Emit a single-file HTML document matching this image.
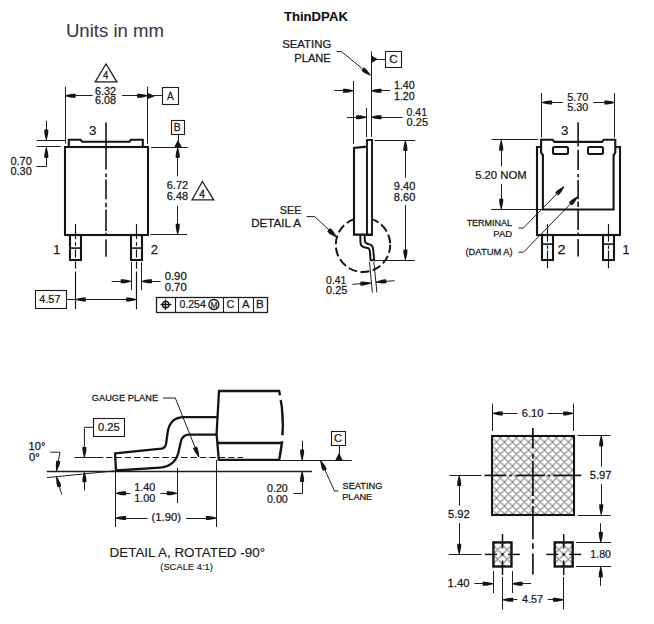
<!DOCTYPE html>
<html><head><meta charset="utf-8"><style>
html,body{margin:0;padding:0;background:#fff;width:654px;height:624px;overflow:hidden}
svg{display:block}
text{font-family:"Liberation Sans",sans-serif}
</style></head><body>
<svg width="654" height="624" viewBox="0 0 654 624">
<rect width="654" height="624" fill="#fff"/>
<text transform="translate(65.93 37.05) scale(1.058 1)" font-size="17.59" font-weight="normal" fill="#3b3b47" stroke="#3b3b47" stroke-width="0.1">Units in mm</text>
<text transform="translate(283.89 21.15) scale(1.102 1)" font-size="11.93" font-weight="bold" fill="#111" stroke="#111" stroke-width="0.1">ThinDPAK</text>
<path d="M106 64 L95.2 81.8 L116.9 81.8 Z" stroke="#1e1e1e" stroke-width="1.3" fill="none" stroke-linejoin="miter"/>
<text transform="translate(102.89 78.65) scale(0.931 1)" font-size="10.2" font-weight="normal" fill="#1b1b1b" stroke="#1b1b1b" stroke-width="0.3">4</text>
<line x1="65.5" y1="86.7" x2="65.5" y2="143.4" stroke="#1e1e1e" stroke-width="1" stroke-linecap="butt"/>
<line x1="147.5" y1="86.7" x2="147.5" y2="143.8" stroke="#1e1e1e" stroke-width="1" stroke-linecap="butt"/>
<line x1="92.6" y1="95.5" x2="65.2" y2="95.5" stroke="#1e1e1e" stroke-width="1" stroke-linecap="butt"/>
<path d="M65.2 95.44 L68.35 94.6 L71.5 93.96 L73.08 93.8 L75.39 93.8 L75.7 94.2 L75.7 97.4 L75.39 97.8 L73.08 97.8 L71.5 97.64 L68.35 97 L65.2 96.16 Z" fill="#151515"/>
<line x1="122" y1="95.5" x2="147.6" y2="95.5" stroke="#1e1e1e" stroke-width="1" stroke-linecap="butt"/>
<path d="M147.6 96.16 L144.45 97 L141.3 97.64 L139.72 97.8 L137.41 97.8 L137.1 97.4 L137.1 94.2 L137.41 93.8 L139.72 93.8 L141.3 93.96 L144.45 94.6 L147.6 95.44 Z" fill="#151515"/>
<text transform="translate(94.88 94.75) scale(1.050 1)" font-size="10.4" font-weight="normal" fill="#1b1b1b" stroke="#1b1b1b" stroke-width="0.25">6.32</text>
<text transform="translate(94.88 104.35) scale(1.044 1)" font-size="10.4" font-weight="normal" fill="#1b1b1b" stroke="#1b1b1b" stroke-width="0.25">6.08</text>
<path d="M147.8 92.9 L155.3 95.9 L147.8 98.9 Z" fill="#151515"/>
<line x1="154" y1="95.5" x2="162.3" y2="95.5" stroke="#1e1e1e" stroke-width="1" stroke-linecap="butt"/>
<rect x="162.5" y="87.5" width="16" height="17" stroke="#1e1e1e" stroke-width="1.1" fill="none"/>
<text transform="translate(166.97 100.35) scale(0.969 1)" font-size="10.4" font-weight="normal" fill="#1b1b1b" stroke="#1b1b1b" stroke-width="0.25">A</text>
<rect x="171.5" y="120.5" width="13" height="14" stroke="#1e1e1e" stroke-width="1.1" fill="none"/>
<text transform="translate(173.7 131.05) scale(0.997 1)" font-size="10.4" font-weight="normal" fill="#1b1b1b" stroke="#1b1b1b" stroke-width="0.25">B</text>
<line x1="178.5" y1="134.6" x2="178.5" y2="141" stroke="#1e1e1e" stroke-width="1" stroke-linecap="butt"/>
<path d="M174.3 147 L178 139.8 L181.7 147 Z" fill="#151515"/>
<line x1="151.1" y1="147.5" x2="187.8" y2="147.5" stroke="#1e1e1e" stroke-width="1" stroke-linecap="butt"/>
<line x1="177.5" y1="176.4" x2="177.5" y2="147.5" stroke="#1e1e1e" stroke-width="1" stroke-linecap="butt"/>
<path d="M178.06 147.5 L178.9 150.65 L179.54 153.8 L179.7 155.38 L179.7 157.69 L179.3 158 L176.1 158 L175.7 157.69 L175.7 155.38 L175.86 153.8 L176.5 150.65 L177.34 147.5 Z" fill="#151515"/>
<line x1="177.5" y1="205.8" x2="177.5" y2="234.3" stroke="#1e1e1e" stroke-width="1" stroke-linecap="butt"/>
<path d="M177.34 234.3 L176.5 231.15 L175.86 228 L175.7 226.43 L175.7 224.12 L176.1 223.8 L179.3 223.8 L179.7 224.12 L179.7 226.43 L179.54 228 L178.9 231.15 L178.06 234.3 Z" fill="#151515"/>
<line x1="150.4" y1="234.5" x2="187" y2="234.5" stroke="#1e1e1e" stroke-width="1" stroke-linecap="butt"/>
<text transform="translate(166.78 189.05) scale(1.055 1)" font-size="10.4" font-weight="normal" fill="#1b1b1b" stroke="#1b1b1b" stroke-width="0.25">6.72</text>
<text transform="translate(166.78 200.05) scale(1.050 1)" font-size="10.4" font-weight="normal" fill="#1b1b1b" stroke="#1b1b1b" stroke-width="0.25">6.48</text>
<path d="M202.4 181.5 L192.1 199.8 L213.7 199.8 Z" stroke="#1e1e1e" stroke-width="1.3" fill="none" stroke-linejoin="miter"/>
<text transform="translate(199.37 198.05) scale(1.010 1)" font-size="10.2" font-weight="normal" fill="#1b1b1b" stroke="#1b1b1b" stroke-width="0.35">4</text>
<line x1="36.7" y1="140.5" x2="65.5" y2="140.5" stroke="#1e1e1e" stroke-width="1" stroke-linecap="butt"/>
<line x1="36.7" y1="146.5" x2="60.7" y2="146.5" stroke="#1e1e1e" stroke-width="1" stroke-linecap="butt"/>
<line x1="46.5" y1="120.8" x2="46.5" y2="140" stroke="#1e1e1e" stroke-width="1" stroke-linecap="butt"/>
<path d="M45.94 140 L45.1 136.85 L44.46 133.7 L44.3 132.12 L44.3 129.81 L44.7 129.5 L47.9 129.5 L48.3 129.81 L48.3 132.12 L48.14 133.7 L47.5 136.85 L46.66 140 Z" fill="#151515"/>
<line x1="46.5" y1="166" x2="46.5" y2="147.4" stroke="#1e1e1e" stroke-width="1" stroke-linecap="butt"/>
<path d="M46.66 147.4 L47.5 150.55 L48.14 153.7 L48.3 155.28 L48.3 157.59 L47.9 157.9 L44.7 157.9 L44.3 157.59 L44.3 155.28 L44.46 153.7 L45.1 150.55 L45.94 147.4 Z" fill="#151515"/>
<line x1="46.8" y1="166.5" x2="36.3" y2="166.5" stroke="#1e1e1e" stroke-width="1" stroke-linecap="butt"/>
<text transform="translate(10.49 164.95) scale(1.054 1)" font-size="10.4" font-weight="normal" fill="#1b1b1b" stroke="#1b1b1b" stroke-width="0.25">0.70</text>
<text transform="translate(10.49 175.05) scale(1.054 1)" font-size="10.4" font-weight="normal" fill="#1b1b1b" stroke="#1b1b1b" stroke-width="0.25">0.30</text>
<rect x="65" y="147" width="83" height="88" stroke="#151515" stroke-width="2.1" fill="none"/>
<path d="M68.8 147.2 L68.8 139.7 L80.5 139.7 L82 141.7 L129.5 141.7 L131 139.7 L142.8 139.7 L142.8 147.2" stroke="#151515" stroke-width="2.1" fill="none" stroke-linejoin="miter"/>
<text transform="translate(88.99 135.35) scale(1.023 1)" font-size="13" font-weight="normal" fill="#1b1b1b" stroke="#1b1b1b" stroke-width="0.25">3</text>
<line x1="106" y1="122.6" x2="106" y2="169.4" stroke="#151515" stroke-width="1.6" stroke-linecap="butt"/>
<line x1="106" y1="173.6" x2="106" y2="177" stroke="#151515" stroke-width="1.6" stroke-linecap="butt"/>
<line x1="106" y1="179.6" x2="106" y2="199.2" stroke="#151515" stroke-width="1.6" stroke-linecap="butt"/>
<line x1="106" y1="202.7" x2="106" y2="207.3" stroke="#151515" stroke-width="1.6" stroke-linecap="butt"/>
<line x1="106" y1="209.6" x2="106" y2="230.9" stroke="#151515" stroke-width="1.6" stroke-linecap="butt"/>
<line x1="106" y1="232.8" x2="106" y2="235.8" stroke="#151515" stroke-width="1.6" stroke-linecap="butt"/>
<line x1="106" y1="239.5" x2="106" y2="256.8" stroke="#151515" stroke-width="1.6" stroke-linecap="butt"/>
<rect x="70" y="235" width="11" height="25" stroke="#151515" stroke-width="2.1" fill="none"/>
<line x1="70.4" y1="248.1" x2="80.9" y2="248.1" stroke="#151515" stroke-width="1.6" stroke-linecap="butt"/>
<line x1="75.5" y1="224" x2="75.5" y2="239.2" stroke="#151515" stroke-width="1.2" stroke-linecap="butt"/>
<line x1="75.5" y1="242.2" x2="75.5" y2="245.8" stroke="#151515" stroke-width="1.2" stroke-linecap="butt"/>
<line x1="75.5" y1="249.5" x2="75.5" y2="257.5" stroke="#151515" stroke-width="1.2" stroke-linecap="butt"/>
<line x1="75.5" y1="261.5" x2="75.5" y2="268.7" stroke="#151515" stroke-width="1.2" stroke-linecap="butt"/>
<line x1="75.5" y1="271.5" x2="75.5" y2="309.2" stroke="#151515" stroke-width="1.2" stroke-linecap="butt"/>
<rect x="131" y="235" width="11" height="25" stroke="#151515" stroke-width="2.1" fill="none"/>
<line x1="131.3" y1="248.1" x2="141.6" y2="248.1" stroke="#151515" stroke-width="1.6" stroke-linecap="butt"/>
<line x1="136.5" y1="224" x2="136.5" y2="239.2" stroke="#151515" stroke-width="1.2" stroke-linecap="butt"/>
<line x1="136.5" y1="242.2" x2="136.5" y2="245.8" stroke="#151515" stroke-width="1.2" stroke-linecap="butt"/>
<line x1="136.5" y1="249.5" x2="136.5" y2="257.5" stroke="#151515" stroke-width="1.2" stroke-linecap="butt"/>
<line x1="136.5" y1="261.5" x2="136.5" y2="268.7" stroke="#151515" stroke-width="1.2" stroke-linecap="butt"/>
<line x1="136.5" y1="271.5" x2="136.5" y2="309.2" stroke="#151515" stroke-width="1.2" stroke-linecap="butt"/>
<text transform="translate(53.25 254.15) scale(1.000 1)" font-size="12.6" font-weight="normal" fill="#1b1b1b" stroke="#1b1b1b" stroke-width="0.25">1</text>
<text transform="translate(150.77 254.15) scale(1.038 1)" font-size="12.6" font-weight="normal" fill="#1b1b1b" stroke="#1b1b1b" stroke-width="0.25">2</text>
<line x1="131.5" y1="262" x2="131.5" y2="290" stroke="#1e1e1e" stroke-width="1" stroke-linecap="butt"/>
<line x1="141.5" y1="262" x2="141.5" y2="290" stroke="#1e1e1e" stroke-width="1" stroke-linecap="butt"/>
<line x1="111.7" y1="281.5" x2="131.2" y2="281.5" stroke="#1e1e1e" stroke-width="1" stroke-linecap="butt"/>
<path d="M131.2 281.66 L128.05 282.5 L124.9 283.14 L123.32 283.3 L121.01 283.3 L120.7 282.9 L120.7 279.7 L121.01 279.3 L123.32 279.3 L124.9 279.46 L128.05 280.1 L131.2 280.94 Z" fill="#151515"/>
<line x1="160.6" y1="281.5" x2="141.5" y2="281.5" stroke="#1e1e1e" stroke-width="1" stroke-linecap="butt"/>
<path d="M141.5 280.94 L144.65 280.1 L147.8 279.46 L149.38 279.3 L151.69 279.3 L152 279.7 L152 282.9 L151.69 283.3 L149.38 283.3 L147.8 283.14 L144.65 282.5 L141.5 281.66 Z" fill="#151515"/>
<text transform="translate(164.67 280.35) scale(1.090 1)" font-size="10.4" font-weight="normal" fill="#1b1b1b" stroke="#1b1b1b" stroke-width="0.25">0.90</text>
<text transform="translate(164.67 290.85) scale(1.090 1)" font-size="10.4" font-weight="normal" fill="#1b1b1b" stroke="#1b1b1b" stroke-width="0.25">0.70</text>
<rect x="35.5" y="290.5" width="31" height="18" stroke="#1e1e1e" stroke-width="1.1" fill="none"/>
<text transform="translate(39.35 303.05) scale(1.041 1)" font-size="10.4" font-weight="normal" fill="#1b1b1b" stroke="#1b1b1b" stroke-width="0.25">4.57</text>
<line x1="66.2" y1="299.5" x2="136.6" y2="299.5" stroke="#1e1e1e" stroke-width="1" stroke-linecap="butt"/>
<path d="M75.5 299.14 L78.65 298.3 L81.8 297.66 L83.38 297.5 L85.69 297.5 L86 297.9 L86 301.1 L85.69 301.5 L83.38 301.5 L81.8 301.34 L78.65 300.7 L75.5 299.86 Z" fill="#151515"/>
<path d="M136.6 299.86 L133.45 300.7 L130.3 301.34 L128.72 301.5 L126.41 301.5 L126.1 301.1 L126.1 297.9 L126.41 297.5 L128.72 297.5 L130.3 297.66 L133.45 298.3 L136.6 299.14 Z" fill="#151515"/>
<rect x="156.5" y="297.5" width="111" height="15" stroke="#1e1e1e" stroke-width="1.3" fill="none"/>
<line x1="175.5" y1="297.2" x2="175.5" y2="312.6" stroke="#1e1e1e" stroke-width="1.1" stroke-linecap="butt"/>
<line x1="223.5" y1="297.2" x2="223.5" y2="312.6" stroke="#1e1e1e" stroke-width="1.1" stroke-linecap="butt"/>
<line x1="238.5" y1="297.2" x2="238.5" y2="312.6" stroke="#1e1e1e" stroke-width="1.1" stroke-linecap="butt"/>
<line x1="253.5" y1="297.2" x2="253.5" y2="312.6" stroke="#1e1e1e" stroke-width="1.1" stroke-linecap="butt"/>
<circle cx="165.8" cy="304.6" r="3.2" stroke="#151515" stroke-width="1.4" fill="none"/>
<line x1="160.5" y1="304.5" x2="171.4" y2="304.5" stroke="#151515" stroke-width="1.4" stroke-linecap="butt"/>
<line x1="165.5" y1="299.4" x2="165.5" y2="310" stroke="#151515" stroke-width="1.4" stroke-linecap="butt"/>
<text transform="translate(179.4 307.85) scale(1.019 1)" font-size="10.4" font-weight="normal" fill="#1b1b1b" stroke="#1b1b1b" stroke-width="0.25">0.254</text>
<circle cx="213.9" cy="304.5" r="5" stroke="#151515" stroke-width="1.3" fill="none"/>
<text transform="translate(210.49 308.15) scale(0.900 1)" font-size="9.4" font-weight="normal" fill="#1b1b1b" stroke="#1b1b1b" stroke-width="0.2">M</text>
<text transform="translate(226.58 307.85) scale(1.045 1)" font-size="10.4" font-weight="normal" fill="#1b1b1b" stroke="#1b1b1b" stroke-width="0.25">C</text>
<text transform="translate(242.07 307.85) scale(1.085 1)" font-size="10.4" font-weight="normal" fill="#1b1b1b" stroke="#1b1b1b" stroke-width="0.25">A</text>
<text transform="translate(255.91 307.85) scale(1.105 1)" font-size="10.4" font-weight="normal" fill="#1b1b1b" stroke="#1b1b1b" stroke-width="0.25">B</text>
<text transform="translate(282.21 47.85) scale(1.083 1)" font-size="10.5" font-weight="normal" fill="#1b1b1b" stroke="#1b1b1b" stroke-width="0.25">SEATING</text>
<text transform="translate(294.34 62.05) scale(1.058 1)" font-size="10.5" font-weight="normal" fill="#1b1b1b" stroke="#1b1b1b" stroke-width="0.25">PLANE</text>
<path d="M336.5 51.6 L341.5 51.6 L370.4 75.3" stroke="#1e1e1e" stroke-width="1" fill="none" stroke-linejoin="miter"/>
<path d="M370.16 75.59 L367.28 74.37 L364.54 72.99 L363.27 72.17 L361.57 70.77 L361.6 70.26 L363.73 67.66 L364.23 67.53 L365.93 68.92 L366.99 70 L368.88 72.42 L370.64 75.01 Z" fill="#151515"/>
<line x1="371.5" y1="51.4" x2="371.5" y2="137" stroke="#1e1e1e" stroke-width="1" stroke-linecap="butt"/>
<path d="M371 55.2 L377.8 59.2 L371 63.2 Z" fill="#151515"/>
<line x1="377" y1="59.5" x2="385.7" y2="59.5" stroke="#1e1e1e" stroke-width="1" stroke-linecap="butt"/>
<rect x="385.5" y="51.5" width="16" height="16" stroke="#1e1e1e" stroke-width="1.1" fill="none"/>
<text transform="translate(389.14 63.25) scale(1.122 1)" font-size="10.4" font-weight="normal" fill="#1b1b1b" stroke="#1b1b1b" stroke-width="0.25">C</text>
<line x1="353.5" y1="81" x2="353.5" y2="144" stroke="#1e1e1e" stroke-width="1" stroke-linecap="butt"/>
<line x1="334.2" y1="90.5" x2="353.4" y2="90.5" stroke="#1e1e1e" stroke-width="1" stroke-linecap="butt"/>
<path d="M353.4 91.16 L350.25 92 L347.1 92.64 L345.52 92.8 L343.21 92.8 L342.9 92.4 L342.9 89.2 L343.21 88.8 L345.52 88.8 L347.1 88.96 L350.25 89.6 L353.4 90.44 Z" fill="#151515"/>
<line x1="390.2" y1="90.5" x2="371" y2="90.5" stroke="#1e1e1e" stroke-width="1" stroke-linecap="butt"/>
<path d="M371 90.44 L374.15 89.6 L377.3 88.96 L378.88 88.8 L381.19 88.8 L381.5 89.2 L381.5 92.4 L381.19 92.8 L378.88 92.8 L377.3 92.64 L374.15 92 L371 91.16 Z" fill="#151515"/>
<text transform="translate(393.92 89.15) scale(1.032 1)" font-size="10.4" font-weight="normal" fill="#1b1b1b" stroke="#1b1b1b" stroke-width="0.25">1.40</text>
<text transform="translate(393.92 99.75) scale(1.032 1)" font-size="10.4" font-weight="normal" fill="#1b1b1b" stroke="#1b1b1b" stroke-width="0.25">1.20</text>
<line x1="366.5" y1="108" x2="366.5" y2="137" stroke="#1e1e1e" stroke-width="1" stroke-linecap="butt"/>
<line x1="347" y1="117.5" x2="366.6" y2="117.5" stroke="#1e1e1e" stroke-width="1" stroke-linecap="butt"/>
<path d="M366.6 117.56 L363.45 118.4 L360.3 119.04 L358.73 119.2 L356.42 119.2 L356.1 118.8 L356.1 115.6 L356.42 115.2 L358.73 115.2 L360.3 115.36 L363.45 116 L366.6 116.84 Z" fill="#151515"/>
<line x1="402.5" y1="117.5" x2="371" y2="117.5" stroke="#1e1e1e" stroke-width="1" stroke-linecap="butt"/>
<path d="M371 116.84 L374.15 116 L377.3 115.36 L378.88 115.2 L381.19 115.2 L381.5 115.6 L381.5 118.8 L381.19 119.2 L378.88 119.2 L377.3 119.04 L374.15 118.4 L371 117.56 Z" fill="#151515"/>
<text transform="translate(406.6 116.15) scale(1.013 1)" font-size="10.4" font-weight="normal" fill="#1b1b1b" stroke="#1b1b1b" stroke-width="0.25">0.41</text>
<text transform="translate(406.58 125.95) scale(1.059 1)" font-size="10.4" font-weight="normal" fill="#1b1b1b" stroke="#1b1b1b" stroke-width="0.25">0.25</text>
<circle cx="363" cy="244.8" r="27.2" stroke="#151515" stroke-width="2" fill="none" stroke-dasharray="9 3.4" stroke-dashoffset="1"/>
<rect x="354" y="147" width="17.4" height="87.6" fill="#fff"/>
<rect x="367" y="140" width="5" height="95" stroke="#151515" stroke-width="1.9" fill="none"/>
<path d="M366.8 146.6 L354 148 L354 234.6 L371.4 234.6" stroke="#151515" stroke-width="2.1" fill="none" stroke-linejoin="miter"/>
<line x1="374.6" y1="140.5" x2="415" y2="140.5" stroke="#1e1e1e" stroke-width="1" stroke-linecap="butt"/>
<line x1="375" y1="260.5" x2="414.8" y2="260.5" stroke="#1e1e1e" stroke-width="1" stroke-linecap="butt"/>
<line x1="405.5" y1="177.8" x2="405.5" y2="140.6" stroke="#1e1e1e" stroke-width="1" stroke-linecap="butt"/>
<path d="M405.76 140.6 L406.6 143.75 L407.24 146.9 L407.4 148.47 L407.4 150.78 L407 151.1 L403.8 151.1 L403.4 150.78 L403.4 148.47 L403.56 146.9 L404.2 143.75 L405.04 140.6 Z" fill="#151515"/>
<line x1="405.5" y1="205" x2="405.5" y2="260" stroke="#1e1e1e" stroke-width="1" stroke-linecap="butt"/>
<path d="M405.04 260 L404.2 256.85 L403.56 253.7 L403.4 252.12 L403.4 249.81 L403.8 249.5 L407 249.5 L407.4 249.81 L407.4 252.12 L407.24 253.7 L406.6 256.85 L405.76 260 Z" fill="#151515"/>
<text transform="translate(393.83 190.25) scale(1.062 1)" font-size="10.4" font-weight="normal" fill="#1b1b1b" stroke="#1b1b1b" stroke-width="0.25">9.40</text>
<text transform="translate(393.83 201.25) scale(1.062 1)" font-size="10.4" font-weight="normal" fill="#1b1b1b" stroke="#1b1b1b" stroke-width="0.25">8.60</text>
<path d="M360.3 234.6 L360.5 242.8 Q360.8 246.6 365 247.4 L367.6 247.9 Q369.6 248.5 369.9 251.5 L370.6 260.3 L374.1 260.3 L373.2 249.5 Q372.9 245.3 369.6 244.4 L368 244 Q364.8 243.2 364.8 240.5 L364.6 234.6" stroke="#151515" stroke-width="2" fill="none" />
<text transform="translate(279.84 213.85) scale(1.027 1)" font-size="10.5" font-weight="normal" fill="#1b1b1b" stroke="#1b1b1b" stroke-width="0.25">SEE</text>
<text transform="translate(251.19 227.05) scale(1.109 1)" font-size="10.5" font-weight="normal" fill="#1b1b1b" stroke="#1b1b1b" stroke-width="0.25">DETAIL A</text>
<path d="M306.7 216.6 L314.7 216.6 L336.3 236.9" stroke="#1e1e1e" stroke-width="1" fill="none" stroke-linejoin="miter"/>
<path d="M336.02 237.2 L333.06 235.75 L330.26 234.13 L328.99 233.18 L327.3 231.6 L327.39 231.05 L329.91 228.37 L330.45 228.25 L332.14 229.83 L333.16 231.04 L334.95 233.74 L336.58 236.6 Z" fill="#151515"/>
<line x1="369.5" y1="262" x2="372.4" y2="292.5" stroke="#1e1e1e" stroke-width="1" stroke-linecap="butt"/>
<line x1="373.9" y1="262" x2="376.9" y2="292.5" stroke="#1e1e1e" stroke-width="1" stroke-linecap="butt"/>
<line x1="352.4" y1="284.3" x2="370.8" y2="283.1" stroke="#1e1e1e" stroke-width="1" stroke-linecap="butt"/>
<path d="M370.82 283.46 L367.73 284.5 L364.63 285.35 L363.07 285.61 L360.77 285.76 L360.43 285.38 L360.22 282.19 L360.51 281.77 L362.81 281.62 L364.39 281.67 L367.58 282.11 L370.78 282.74 Z" fill="#151515"/>
<line x1="394.6" y1="280.7" x2="375.9" y2="282.1" stroke="#1e1e1e" stroke-width="1" stroke-linecap="butt"/>
<path d="M375.87 281.74 L378.95 280.67 L382.05 279.79 L383.6 279.52 L385.91 279.35 L386.25 279.72 L386.49 282.91 L386.21 283.33 L383.9 283.51 L382.32 283.46 L379.13 283.06 L375.93 282.46 Z" fill="#151515"/>
<text transform="translate(326.11 283.65) scale(1.003 1)" font-size="10.4" font-weight="normal" fill="#1b1b1b" stroke="#1b1b1b" stroke-width="0.25">0.41</text>
<text transform="translate(326.09 294.05) scale(1.044 1)" font-size="10.4" font-weight="normal" fill="#1b1b1b" stroke="#1b1b1b" stroke-width="0.25">0.25</text>
<line x1="541.5" y1="93" x2="541.5" y2="137.5" stroke="#1e1e1e" stroke-width="1" stroke-linecap="butt"/>
<line x1="614.5" y1="93" x2="614.5" y2="137.5" stroke="#1e1e1e" stroke-width="1" stroke-linecap="butt"/>
<line x1="562.8" y1="102.5" x2="541.6" y2="102.5" stroke="#1e1e1e" stroke-width="1" stroke-linecap="butt"/>
<path d="M541.6 102.14 L544.75 101.3 L547.9 100.66 L549.48 100.5 L551.78 100.5 L552.1 100.9 L552.1 104.1 L551.78 104.5 L549.48 104.5 L547.9 104.34 L544.75 103.7 L541.6 102.86 Z" fill="#151515"/>
<line x1="593.2" y1="102.5" x2="614.9" y2="102.5" stroke="#1e1e1e" stroke-width="1" stroke-linecap="butt"/>
<path d="M614.9 102.86 L611.75 103.7 L608.6 104.34 L607.02 104.5 L604.72 104.5 L604.4 104.1 L604.4 100.9 L604.72 100.5 L607.02 100.5 L608.6 100.66 L611.75 101.3 L614.9 102.14 Z" fill="#151515"/>
<text transform="translate(567.19 101.15) scale(1.049 1)" font-size="10.4" font-weight="normal" fill="#1b1b1b" stroke="#1b1b1b" stroke-width="0.25">5.70</text>
<text transform="translate(567.19 111.25) scale(1.049 1)" font-size="10.4" font-weight="normal" fill="#1b1b1b" stroke="#1b1b1b" stroke-width="0.25">5.30</text>
<text transform="translate(560.89 135.05) scale(1.023 1)" font-size="13" font-weight="normal" fill="#1b1b1b" stroke="#1b1b1b" stroke-width="0.25">3</text>
<rect x="537" y="147" width="83" height="88" stroke="#151515" stroke-width="2.1" fill="none"/>
<path d="M541.1 153 L541.1 139.8 L552.6 139.8 L554.5 141.9 L601.9 141.9 L603.8 139.8 L615.3 139.8 L615.3 153" stroke="#151515" stroke-width="2.1" fill="#fff" />
<path d="M541.1 152.9 L542.9 155 L542.9 209.5 L613.6 209.5 L613.6 155 L615.3 152.9" stroke="#151515" stroke-width="2.1" fill="none" />
<rect x="553" y="147" width="15" height="7" stroke="#151515" stroke-width="2.1" fill="#fff" rx="1.5"/>
<rect x="588" y="147" width="15" height="7" stroke="#151515" stroke-width="2.1" fill="#fff" rx="1.5"/>
<line x1="578.1" y1="122.2" x2="578.1" y2="146.4" stroke="#151515" stroke-width="1.6" stroke-linecap="butt"/>
<line x1="578.1" y1="149.8" x2="578.1" y2="170" stroke="#151515" stroke-width="1.6" stroke-linecap="butt"/>
<line x1="578.1" y1="173.9" x2="578.1" y2="177.3" stroke="#151515" stroke-width="1.6" stroke-linecap="butt"/>
<line x1="578.1" y1="180.1" x2="578.1" y2="199.2" stroke="#151515" stroke-width="1.6" stroke-linecap="butt"/>
<line x1="578.1" y1="201.5" x2="578.1" y2="206.9" stroke="#151515" stroke-width="1.6" stroke-linecap="butt"/>
<line x1="578.1" y1="209.3" x2="578.1" y2="230" stroke="#151515" stroke-width="1.6" stroke-linecap="butt"/>
<line x1="578.1" y1="232.5" x2="578.1" y2="235.5" stroke="#151515" stroke-width="1.6" stroke-linecap="butt"/>
<line x1="578.1" y1="238.9" x2="578.1" y2="256.6" stroke="#151515" stroke-width="1.6" stroke-linecap="butt"/>
<line x1="491.5" y1="139.5" x2="538" y2="139.5" stroke="#1e1e1e" stroke-width="1" stroke-linecap="butt"/>
<line x1="491.3" y1="209.5" x2="542" y2="209.5" stroke="#1e1e1e" stroke-width="1" stroke-linecap="butt"/>
<line x1="501.5" y1="166.4" x2="501.5" y2="140.3" stroke="#1e1e1e" stroke-width="1" stroke-linecap="butt"/>
<path d="M501.56 140.3 L502.4 143.45 L503.04 146.6 L503.2 148.18 L503.2 150.49 L502.8 150.8 L499.6 150.8 L499.2 150.49 L499.2 148.18 L499.36 146.6 L500 143.45 L500.84 140.3 Z" fill="#151515"/>
<line x1="501.5" y1="184" x2="501.5" y2="209.2" stroke="#1e1e1e" stroke-width="1" stroke-linecap="butt"/>
<path d="M500.84 209.2 L500 206.05 L499.36 202.9 L499.2 201.32 L499.2 199.01 L499.6 198.7 L502.8 198.7 L503.2 199.01 L503.2 201.32 L503.04 202.9 L502.4 206.05 L501.56 209.2 Z" fill="#151515"/>
<text transform="translate(475.17 179.45) scale(1.085 1)" font-size="10.4" font-weight="normal" fill="#1b1b1b" stroke="#1b1b1b" stroke-width="0.25">5.20 NOM</text>
<rect x="542" y="235" width="11" height="25" stroke="#151515" stroke-width="2.1" fill="none"/>
<line x1="542.2" y1="244.1" x2="553.1" y2="244.1" stroke="#151515" stroke-width="1.6" stroke-linecap="butt"/>
<line x1="547.5" y1="224" x2="547.5" y2="241.6" stroke="#151515" stroke-width="1.2" stroke-linecap="butt"/>
<line x1="547.5" y1="245.5" x2="547.5" y2="248.8" stroke="#151515" stroke-width="1.2" stroke-linecap="butt"/>
<line x1="547.5" y1="250.5" x2="547.5" y2="258.9" stroke="#151515" stroke-width="1.2" stroke-linecap="butt"/>
<line x1="547.5" y1="260.5" x2="547.5" y2="268.3" stroke="#151515" stroke-width="1.2" stroke-linecap="butt"/>
<rect x="603" y="235" width="11" height="25" stroke="#151515" stroke-width="2.1" fill="none"/>
<line x1="603.3" y1="244.1" x2="614.2" y2="244.1" stroke="#151515" stroke-width="1.6" stroke-linecap="butt"/>
<line x1="608.5" y1="224" x2="608.5" y2="241.6" stroke="#151515" stroke-width="1.2" stroke-linecap="butt"/>
<line x1="608.5" y1="245.5" x2="608.5" y2="248.8" stroke="#151515" stroke-width="1.2" stroke-linecap="butt"/>
<line x1="608.5" y1="250.5" x2="608.5" y2="258.9" stroke="#151515" stroke-width="1.2" stroke-linecap="butt"/>
<line x1="608.5" y1="260.5" x2="608.5" y2="268.3" stroke="#151515" stroke-width="1.2" stroke-linecap="butt"/>
<text transform="translate(557.51 254.15) scale(1.143 1)" font-size="12.6" font-weight="normal" fill="#1b1b1b" stroke="#1b1b1b" stroke-width="0.25">2</text>
<text transform="translate(622.55 254.15) scale(1.000 1)" font-size="12.6" font-weight="normal" fill="#1b1b1b" stroke="#1b1b1b" stroke-width="0.25">1</text>
<text transform="translate(466.65 226.25) scale(0.964 1)" font-size="9.3" font-weight="normal" fill="#1b1b1b" stroke="#1b1b1b" stroke-width="0.25">TERMINAL</text>
<text transform="translate(493.37 236.85) scale(1.017 1)" font-size="9.3" font-weight="normal" fill="#1b1b1b" stroke="#1b1b1b" stroke-width="0.25">PAD</text>
<text transform="translate(465.46 255.05) scale(1.010 1)" font-size="9.3" font-weight="normal" fill="#1b1b1b" stroke="#1b1b1b" stroke-width="0.25">(DATUM A)</text>
<path d="M518.5 228.1 L523.3 228.1 L564 186.6" stroke="#1e1e1e" stroke-width="1" fill="none" stroke-linejoin="miter"/>
<path d="M564.27 186.86 L562.69 189.73 L560.97 192.45 L559.99 193.69 L558.37 195.34 L557.85 195.27 L555.45 192.92 L555.37 192.4 L556.99 190.75 L558.21 189.75 L560.89 187.97 L563.73 186.34 Z" fill="#151515"/>
<path d="M518.5 252.2 L523.5 252.2 L577.6 196.6" stroke="#1e1e1e" stroke-width="1" fill="none" stroke-linejoin="miter"/>
<path d="M577.87 196.86 L576.31 199.74 L574.59 202.46 L573.61 203.71 L572 205.36 L571.48 205.3 L569.07 202.95 L568.99 202.44 L570.6 200.78 L571.82 199.77 L574.5 197.98 L577.33 196.34 Z" fill="#151515"/>
<text transform="translate(91.86 401.25) scale(1.050 1)" font-size="8.8" font-weight="normal" fill="#1b1b1b" stroke="#1b1b1b" stroke-width="0.25">GAUGE PLANE</text>
<path d="M163 398 L175.3 398 L198.9 457" stroke="#1e1e1e" stroke-width="1" fill="none" stroke-linejoin="miter"/>
<path d="M198.55 457.14 L196.56 454.54 L194.77 451.87 L194.03 450.47 L193.17 448.32 L193.44 447.87 L196.56 446.63 L197.07 446.76 L197.93 448.91 L198.35 450.43 L198.9 453.61 L199.25 456.86 Z" fill="#151515"/>
<rect x="93.5" y="418.5" width="31" height="18" stroke="#1e1e1e" stroke-width="1.1" fill="none"/>
<text transform="translate(97.98 431.45) scale(1.075 1)" font-size="10.4" font-weight="normal" fill="#1b1b1b" stroke="#1b1b1b" stroke-width="0.25">0.25</text>
<path d="M93.7 427.3 L84.4 427.3 L84.4 457.4" stroke="#1e1e1e" stroke-width="1" fill="none" stroke-linejoin="miter"/>
<path d="M84.04 457.4 L83.2 454.25 L82.56 451.1 L82.4 449.52 L82.4 447.21 L82.8 446.9 L86 446.9 L86.4 447.21 L86.4 449.52 L86.24 451.1 L85.6 454.25 L84.76 457.4 Z" fill="#151515"/>
<line x1="84.5" y1="490.4" x2="84.5" y2="471.8" stroke="#1e1e1e" stroke-width="1" stroke-linecap="butt"/>
<path d="M84.76 471.8 L85.6 474.95 L86.24 478.1 L86.4 479.68 L86.4 481.99 L86 482.3 L82.8 482.3 L82.4 481.99 L82.4 479.68 L82.56 478.1 L83.2 474.95 L84.04 471.8 Z" fill="#151515"/>
<line x1="74.4" y1="457.5" x2="103.3" y2="457.5" stroke="#1e1e1e" stroke-width="1" stroke-linecap="butt"/>
<line x1="106" y1="457.5" x2="243" y2="457.5" stroke="#1e1e1e" stroke-width="1" stroke-linecap="butt" stroke-dasharray="6.2 3.2"/>
<line x1="46.9" y1="471.5" x2="312.1" y2="471.5" stroke="#1e1e1e" stroke-width="1.3" stroke-linecap="butt"/>
<line x1="218.8" y1="460.5" x2="351.8" y2="460.5" stroke="#1e1e1e" stroke-width="1.2" stroke-linecap="butt"/>
<line x1="46.9" y1="477.6" x2="114.3" y2="470.9" stroke="#1e1e1e" stroke-width="1" stroke-linecap="butt"/>
<path d="M50.3 452.2 L60 452.2 L56.5 471" stroke="#1e1e1e" stroke-width="1" fill="none" stroke-linejoin="miter"/>
<path d="M56.15 470.93 L55.9 467.68 L55.84 464.47 L55.98 462.89 L56.4 460.62 L56.85 460.38 L59.99 460.97 L60.33 461.35 L59.91 463.62 L59.46 465.14 L58.26 468.12 L56.85 471.07 Z" fill="#151515"/>
<line x1="61.7" y1="494.5" x2="56.5" y2="476.8" stroke="#1e1e1e" stroke-width="1" stroke-linecap="butt"/>
<path d="M56.85 476.7 L58.54 479.48 L60.04 482.33 L60.64 483.79 L61.29 486.01 L60.99 486.42 L57.92 487.33 L57.45 487.14 L56.8 484.92 L56.51 483.36 L56.24 480.16 L56.15 476.9 Z" fill="#151515"/>
<text transform="translate(28.59 450.05) scale(1.066 1)" font-size="10.4" font-weight="normal" fill="#1b1b1b" stroke="#1b1b1b" stroke-width="0.25">10°</text>
<text transform="translate(28.98 461.25) scale(1.074 1)" font-size="10.4" font-weight="normal" fill="#1b1b1b" stroke="#1b1b1b" stroke-width="0.25">0°</text>
<path d="M115 453.3 L161.5 448.6 Q165.3 448 166.1 443.5 L167.7 432 Q170 417.5 184 417.2 L218 417.2" stroke="#151515" stroke-width="2.3" fill="none" />
<path d="M116 470.5 L160 467.6 Q174.5 466.5 178.3 453 L181 441 Q182.8 434.6 189 434.6 L217.3 434.6" stroke="#151515" stroke-width="2.3" fill="none" />
<line x1="115" y1="452.5" x2="116" y2="471" stroke="#151515" stroke-width="2.3" stroke-linecap="butt"/>
<path d="M219 391 L279.2 391 Q286.5 425 279.2 459.9 L218.8 459.9 L216.6 434 L219 391 Z" stroke="#151515" stroke-width="2.3" fill="#fff" />
<line x1="279.7" y1="395.3" x2="281.3" y2="399.8" stroke="#fff" stroke-width="3.6" stroke-linecap="butt"/>
<line x1="283" y1="435.3" x2="282.1" y2="441.3" stroke="#fff" stroke-width="3.6" stroke-linecap="butt"/>
<line x1="217.2" y1="443" x2="283.2" y2="443" stroke="#151515" stroke-width="2.3" stroke-linecap="butt"/>
<line x1="106" y1="457.5" x2="243" y2="457.5" stroke="#1e1e1e" stroke-width="1" stroke-linecap="butt" stroke-dasharray="6.2 3.2"/>
<line x1="115.5" y1="472" x2="115.5" y2="527" stroke="#1e1e1e" stroke-width="1" stroke-linecap="butt"/>
<line x1="177.5" y1="468" x2="177.5" y2="503" stroke="#1e1e1e" stroke-width="1" stroke-linecap="butt"/>
<line x1="216.5" y1="460" x2="216.5" y2="527" stroke="#1e1e1e" stroke-width="1" stroke-linecap="butt"/>
<line x1="130.3" y1="493.5" x2="115.6" y2="493.5" stroke="#1e1e1e" stroke-width="1" stroke-linecap="butt"/>
<path d="M115.6 492.94 L118.75 492.1 L121.9 491.46 L123.47 491.3 L125.78 491.3 L126.1 491.7 L126.1 494.9 L125.78 495.3 L123.47 495.3 L121.9 495.14 L118.75 494.5 L115.6 493.66 Z" fill="#151515"/>
<line x1="160.3" y1="493.5" x2="177.2" y2="493.5" stroke="#1e1e1e" stroke-width="1" stroke-linecap="butt"/>
<path d="M177.2 493.66 L174.05 494.5 L170.9 495.14 L169.32 495.3 L167.01 495.3 L166.7 494.9 L166.7 491.7 L167.01 491.3 L169.32 491.3 L170.9 491.46 L174.05 492.1 L177.2 492.94 Z" fill="#151515"/>
<text transform="translate(134.21 491.15) scale(1.043 1)" font-size="10.4" font-weight="normal" fill="#1b1b1b" stroke="#1b1b1b" stroke-width="0.25">1.40</text>
<text transform="translate(134.21 502.15) scale(1.043 1)" font-size="10.4" font-weight="normal" fill="#1b1b1b" stroke="#1b1b1b" stroke-width="0.25">1.00</text>
<line x1="147.5" y1="518.5" x2="115.6" y2="518.5" stroke="#1e1e1e" stroke-width="1" stroke-linecap="butt"/>
<path d="M115.6 517.64 L118.75 516.8 L121.9 516.16 L123.47 516 L125.78 516 L126.1 516.4 L126.1 519.6 L125.78 520 L123.47 520 L121.9 519.84 L118.75 519.2 L115.6 518.36 Z" fill="#151515"/>
<line x1="186" y1="518.5" x2="216.4" y2="518.5" stroke="#1e1e1e" stroke-width="1" stroke-linecap="butt"/>
<path d="M216.4 518.36 L213.25 519.2 L210.1 519.84 L208.53 520 L206.22 520 L205.9 519.6 L205.9 516.4 L206.22 516 L208.53 516 L210.1 516.16 L213.25 516.8 L216.4 517.64 Z" fill="#151515"/>
<text transform="translate(151.55 521.15) scale(1.083 1)" font-size="10.4" font-weight="normal" fill="#1b1b1b" stroke="#1b1b1b" stroke-width="0.25">(1.90)</text>
<line x1="302.5" y1="440.8" x2="302.5" y2="460" stroke="#1e1e1e" stroke-width="1" stroke-linecap="butt"/>
<path d="M301.74 460 L300.9 456.85 L300.26 453.7 L300.1 452.12 L300.1 449.81 L300.5 449.5 L303.7 449.5 L304.1 449.81 L304.1 452.12 L303.94 453.7 L303.3 456.85 L302.46 460 Z" fill="#151515"/>
<line x1="302.5" y1="493.6" x2="302.5" y2="471.5" stroke="#1e1e1e" stroke-width="1" stroke-linecap="butt"/>
<path d="M302.46 471.5 L303.3 474.65 L303.94 477.8 L304.1 479.38 L304.1 481.69 L303.7 482 L300.5 482 L300.1 481.69 L300.1 479.38 L300.26 477.8 L300.9 474.65 L301.74 471.5 Z" fill="#151515"/>
<line x1="302.6" y1="493.5" x2="293.4" y2="493.5" stroke="#1e1e1e" stroke-width="1" stroke-linecap="butt"/>
<text transform="translate(267 491.85) scale(1.029 1)" font-size="10.4" font-weight="normal" fill="#1b1b1b" stroke="#1b1b1b" stroke-width="0.25">0.20</text>
<text transform="translate(267 503.15) scale(1.029 1)" font-size="10.4" font-weight="normal" fill="#1b1b1b" stroke="#1b1b1b" stroke-width="0.25">0.00</text>
<rect x="331.5" y="431.5" width="14" height="14" stroke="#1e1e1e" stroke-width="1.1" fill="none"/>
<text transform="translate(333.97 442.15) scale(1.061 1)" font-size="10.4" font-weight="normal" fill="#1b1b1b" stroke="#1b1b1b" stroke-width="0.25">C</text>
<line x1="339.5" y1="445.5" x2="339.5" y2="454" stroke="#1e1e1e" stroke-width="1" stroke-linecap="butt"/>
<path d="M335.2 460.4 L339 452.8 L342.8 460.4 Z" fill="#151515"/>
<path d="M338.5 491 L334.5 491 L320.6 460.6" stroke="#1e1e1e" stroke-width="1" fill="none" stroke-linejoin="miter"/>
<path d="M320.94 460.44 L323.06 462.94 L324.98 465.53 L325.78 466.89 L326.75 468.99 L326.49 469.45 L323.44 470.85 L322.93 470.74 L321.96 468.64 L321.46 467.13 L320.76 463.99 L320.26 460.76 Z" fill="#151515"/>
<text transform="translate(342.51 489.25) scale(1.076 1)" font-size="8.6" font-weight="normal" fill="#1b1b1b" stroke="#1b1b1b" stroke-width="0.25">SEATING</text>
<text transform="translate(342.19 500.25) scale(1.067 1)" font-size="8.6" font-weight="normal" fill="#1b1b1b" stroke="#1b1b1b" stroke-width="0.25">PLANE</text>
<text transform="translate(109.55 557.05) scale(1.023 1)" font-size="13.12" font-weight="normal" fill="#1b1b1b" stroke="#1b1b1b" stroke-width="0.15">DETAIL A, ROTATED -90°</text>
<text transform="translate(160.26 569.85) scale(0.972 1)" font-size="9.64" font-weight="normal" fill="#1b1b1b" stroke="#1b1b1b" stroke-width="0.15">(SCALE 4:1)</text>
<defs><pattern id="hx" patternUnits="userSpaceOnUse" width="8" height="8" x="0.5" y="2"><path d="M-1 1 L1 -1 M0 8 L8 0 M7 9 L9 7 M-1 7 L1 9 M0 0 L8 8 M7 -1 L9 1" stroke="#858585" stroke-width="1.2"/></pattern><pattern id="hs1" patternUnits="userSpaceOnUse" width="9.6" height="9.6" x="502.5" y="554.5"><path d="M-1 1 L1 -1 M0 9.6 L9.6 0 M8.6 10.6 L10.6 8.6 M-1 8.6 L1 10.6 M0 0 L9.6 9.6 M8.6 -1 L10.6 1" stroke="#8a8a8a" stroke-width="1.2"/></pattern><pattern id="hs2" patternUnits="userSpaceOnUse" width="9.6" height="9.6" x="563.7" y="554.5"><path d="M-1 1 L1 -1 M0 9.6 L9.6 0 M8.6 10.6 L10.6 8.6 M-1 8.6 L1 10.6 M0 0 L9.6 9.6 M8.6 -1 L10.6 1" stroke="#8a8a8a" stroke-width="1.2"/></pattern></defs>
<rect x="492" y="436" width="82" height="79" stroke="#151515" stroke-width="2.1" fill="url(#hx)"/>
<rect x="493.4" y="542.4" width="18.1" height="24.1" stroke="#151515" stroke-width="2.4" fill="url(#hs1)"/>
<rect x="554.7" y="542.4" width="18" height="24.1" stroke="#151515" stroke-width="2.4" fill="url(#hs2)"/>
<line x1="492.5" y1="403.6" x2="492.5" y2="431" stroke="#1e1e1e" stroke-width="1" stroke-linecap="butt"/>
<line x1="573.5" y1="403.6" x2="573.5" y2="431" stroke="#1e1e1e" stroke-width="1" stroke-linecap="butt"/>
<line x1="517.6" y1="413.5" x2="492.4" y2="413.5" stroke="#1e1e1e" stroke-width="1" stroke-linecap="butt"/>
<path d="M492.4 413.04 L495.55 412.2 L498.7 411.56 L500.27 411.4 L502.58 411.4 L502.9 411.8 L502.9 415 L502.58 415.4 L500.27 415.4 L498.7 415.24 L495.55 414.6 L492.4 413.76 Z" fill="#151515"/>
<line x1="547.5" y1="413.5" x2="573.6" y2="413.5" stroke="#1e1e1e" stroke-width="1" stroke-linecap="butt"/>
<path d="M573.6 413.76 L570.45 414.6 L567.3 415.24 L565.73 415.4 L563.42 415.4 L563.1 415 L563.1 411.8 L563.42 411.4 L565.73 411.4 L567.3 411.56 L570.45 412.2 L573.6 413.04 Z" fill="#151515"/>
<text transform="translate(521.77 417.25) scale(1.065 1)" font-size="10.4" font-weight="normal" fill="#1b1b1b" stroke="#1b1b1b" stroke-width="0.25">6.10</text>
<line x1="532.9" y1="428" x2="532.9" y2="448.5" stroke="#151515" stroke-width="1.7" stroke-linecap="butt"/>
<line x1="532.9" y1="453.9" x2="532.9" y2="458.7" stroke="#151515" stroke-width="1.7" stroke-linecap="butt"/>
<line x1="532.9" y1="461.1" x2="532.9" y2="496" stroke="#151515" stroke-width="1.7" stroke-linecap="butt"/>
<line x1="532.9" y1="499.1" x2="532.9" y2="503.2" stroke="#151515" stroke-width="1.7" stroke-linecap="butt"/>
<line x1="532.9" y1="505.9" x2="532.9" y2="539.2" stroke="#151515" stroke-width="1.7" stroke-linecap="butt"/>
<line x1="532.9" y1="543.3" x2="532.9" y2="548.7" stroke="#151515" stroke-width="1.7" stroke-linecap="butt"/>
<line x1="532.9" y1="553.5" x2="532.9" y2="574.6" stroke="#151515" stroke-width="1.7" stroke-linecap="butt"/>
<line x1="449.4" y1="475.5" x2="481.6" y2="475.5" stroke="#1e1e1e" stroke-width="1" stroke-linecap="butt"/>
<line x1="484.5" y1="475.4" x2="506" y2="475.4" stroke="#151515" stroke-width="1.7" stroke-linecap="butt"/>
<line x1="509.3" y1="475.4" x2="511.8" y2="475.4" stroke="#151515" stroke-width="1.7" stroke-linecap="butt"/>
<line x1="515.5" y1="475.4" x2="544.8" y2="475.4" stroke="#151515" stroke-width="1.7" stroke-linecap="butt"/>
<line x1="547.5" y1="475.4" x2="550" y2="475.4" stroke="#151515" stroke-width="1.7" stroke-linecap="butt"/>
<line x1="553" y1="475.4" x2="581.4" y2="475.4" stroke="#151515" stroke-width="1.7" stroke-linecap="butt"/>
<line x1="577.4" y1="435.5" x2="610.6" y2="435.5" stroke="#1e1e1e" stroke-width="1" stroke-linecap="butt"/>
<line x1="577.6" y1="515.5" x2="610.7" y2="515.5" stroke="#1e1e1e" stroke-width="1" stroke-linecap="butt"/>
<line x1="601.5" y1="466.7" x2="601.5" y2="435.9" stroke="#1e1e1e" stroke-width="1" stroke-linecap="butt"/>
<path d="M601.56 435.9 L602.4 439.05 L603.04 442.2 L603.2 443.77 L603.2 446.08 L602.8 446.4 L599.6 446.4 L599.2 446.08 L599.2 443.77 L599.36 442.2 L600 439.05 L600.84 435.9 Z" fill="#151515"/>
<line x1="601.5" y1="484.2" x2="601.5" y2="514.7" stroke="#1e1e1e" stroke-width="1" stroke-linecap="butt"/>
<path d="M600.84 514.7 L600 511.55 L599.36 508.4 L599.2 506.83 L599.2 504.52 L599.6 504.2 L602.8 504.2 L603.2 504.52 L603.2 506.83 L603.04 508.4 L602.4 511.55 L601.56 514.7 Z" fill="#151515"/>
<text transform="translate(589.78 479.25) scale(1.070 1)" font-size="10.4" font-weight="normal" fill="#1b1b1b" stroke="#1b1b1b" stroke-width="0.25">5.97</text>
<line x1="459.5" y1="505.6" x2="459.5" y2="475.5" stroke="#1e1e1e" stroke-width="1" stroke-linecap="butt"/>
<path d="M459.56 475.5 L460.4 478.65 L461.04 481.8 L461.2 483.38 L461.2 485.69 L460.8 486 L457.6 486 L457.2 485.69 L457.2 483.38 L457.36 481.8 L458 478.65 L458.84 475.5 Z" fill="#151515"/>
<line x1="459.5" y1="523.2" x2="459.5" y2="554.2" stroke="#1e1e1e" stroke-width="1" stroke-linecap="butt"/>
<path d="M458.84 554.2 L458 551.05 L457.36 547.9 L457.2 546.33 L457.2 544.02 L457.6 543.7 L460.8 543.7 L461.2 544.02 L461.2 546.33 L461.04 547.9 L460.4 551.05 L459.56 554.2 Z" fill="#151515"/>
<text transform="translate(447.98 518.15) scale(1.076 1)" font-size="10.4" font-weight="normal" fill="#1b1b1b" stroke="#1b1b1b" stroke-width="0.25">5.92</text>
<line x1="448.8" y1="554.5" x2="481.3" y2="554.5" stroke="#1e1e1e" stroke-width="1" stroke-linecap="butt"/>
<line x1="485" y1="554.4" x2="497" y2="554.4" stroke="#151515" stroke-width="1.5" stroke-linecap="butt"/>
<line x1="508" y1="554.4" x2="520" y2="554.4" stroke="#151515" stroke-width="1.5" stroke-linecap="butt"/>
<line x1="502.5" y1="534" x2="502.5" y2="548.5" stroke="#151515" stroke-width="1.5" stroke-linecap="butt"/>
<line x1="502.5" y1="560.5" x2="502.5" y2="575" stroke="#151515" stroke-width="1.5" stroke-linecap="butt"/>
<circle cx="502.5" cy="554.4" r="1.3" fill="#151515"/>
<line x1="546.2" y1="554.4" x2="558.2" y2="554.4" stroke="#151515" stroke-width="1.5" stroke-linecap="butt"/>
<line x1="569.2" y1="554.4" x2="581.2" y2="554.4" stroke="#151515" stroke-width="1.5" stroke-linecap="butt"/>
<line x1="563.7" y1="534" x2="563.7" y2="548.5" stroke="#151515" stroke-width="1.5" stroke-linecap="butt"/>
<line x1="563.7" y1="560.5" x2="563.7" y2="575" stroke="#151515" stroke-width="1.5" stroke-linecap="butt"/>
<circle cx="563.7" cy="554.4" r="1.3" fill="#151515"/>
<line x1="576" y1="542.5" x2="611" y2="542.5" stroke="#1e1e1e" stroke-width="1" stroke-linecap="butt"/>
<line x1="576" y1="566.5" x2="611" y2="566.5" stroke="#1e1e1e" stroke-width="1" stroke-linecap="butt"/>
<line x1="600.5" y1="523.3" x2="600.5" y2="542.3" stroke="#1e1e1e" stroke-width="1" stroke-linecap="butt"/>
<path d="M600.44 542.3 L599.6 539.15 L598.96 536 L598.8 534.42 L598.8 532.12 L599.2 531.8 L602.4 531.8 L602.8 532.12 L602.8 534.42 L602.64 536 L602 539.15 L601.16 542.3 Z" fill="#151515"/>
<line x1="600.5" y1="585.9" x2="600.5" y2="566.9" stroke="#1e1e1e" stroke-width="1" stroke-linecap="butt"/>
<path d="M601.16 566.9 L602 570.05 L602.64 573.2 L602.8 574.77 L602.8 577.08 L602.4 577.4 L599.2 577.4 L598.8 577.08 L598.8 574.77 L598.96 573.2 L599.6 570.05 L600.44 566.9 Z" fill="#151515"/>
<text transform="translate(590.33 558.05) scale(1.017 1)" font-size="10.4" font-weight="normal" fill="#1b1b1b" stroke="#1b1b1b" stroke-width="0.25">1.80</text>
<line x1="493.5" y1="571" x2="493.5" y2="593" stroke="#1e1e1e" stroke-width="1" stroke-linecap="butt"/>
<line x1="512.5" y1="571" x2="512.5" y2="593" stroke="#1e1e1e" stroke-width="1" stroke-linecap="butt"/>
<line x1="474.4" y1="583.5" x2="493.1" y2="583.5" stroke="#1e1e1e" stroke-width="1" stroke-linecap="butt"/>
<path d="M493.1 584.16 L489.95 585 L486.8 585.64 L485.23 585.8 L482.92 585.8 L482.6 585.4 L482.6 582.2 L482.92 581.8 L485.23 581.8 L486.8 581.96 L489.95 582.6 L493.1 583.44 Z" fill="#151515"/>
<line x1="531.1" y1="583.5" x2="512.1" y2="583.5" stroke="#1e1e1e" stroke-width="1" stroke-linecap="butt"/>
<path d="M512.1 583.44 L515.25 582.6 L518.4 581.96 L519.98 581.8 L522.28 581.8 L522.6 582.2 L522.6 585.4 L522.28 585.8 L519.98 585.8 L518.4 585.64 L515.25 585 L512.1 584.16 Z" fill="#151515"/>
<text transform="translate(447.57 586.65) scale(1.090 1)" font-size="10.4" font-weight="normal" fill="#1b1b1b" stroke="#1b1b1b" stroke-width="0.25">1.40</text>
<line x1="502.5" y1="577" x2="502.5" y2="609.5" stroke="#1e1e1e" stroke-width="1" stroke-linecap="butt"/>
<line x1="563.5" y1="577" x2="563.5" y2="609.5" stroke="#1e1e1e" stroke-width="1" stroke-linecap="butt"/>
<line x1="517.3" y1="599.5" x2="502.8" y2="599.5" stroke="#1e1e1e" stroke-width="1" stroke-linecap="butt"/>
<path d="M502.8 599.44 L505.95 598.6 L509.1 597.96 L510.68 597.8 L512.99 597.8 L513.3 598.2 L513.3 601.4 L512.99 601.8 L510.68 601.8 L509.1 601.64 L505.95 601 L502.8 600.16 Z" fill="#151515"/>
<line x1="547.6" y1="599.5" x2="563.4" y2="599.5" stroke="#1e1e1e" stroke-width="1" stroke-linecap="butt"/>
<path d="M563.4 600.16 L560.25 601 L557.1 601.64 L555.52 601.8 L553.22 601.8 L552.9 601.4 L552.9 598.2 L553.22 597.8 L555.52 597.8 L557.1 597.96 L560.25 598.6 L563.4 599.44 Z" fill="#151515"/>
<text transform="translate(522.05 603.05) scale(1.041 1)" font-size="10.4" font-weight="normal" fill="#1b1b1b" stroke="#1b1b1b" stroke-width="0.25">4.57</text>
</svg>
</body></html>
